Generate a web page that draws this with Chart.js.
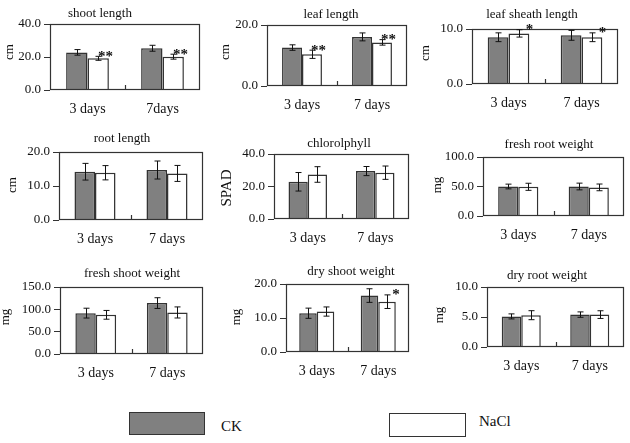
<!DOCTYPE html>
<html>
<head>
<meta charset="utf-8">
<script src="https://cdn.jsdelivr.net/npm/chart.js@4/dist/chart.umd.min.js"></script>
<style>
body{margin:0;background:#fff;width:630px;height:443px;overflow:hidden;position:relative;font-family:"Liberation Serif",serif;}
canvas{position:absolute;}
.key{position:absolute;box-sizing:border-box;border:1.5px solid #333;}
.keytxt{position:absolute;font-size:15px;color:#111;line-height:1;}
</style>
</head>
<body>
<script>
// data
var seriesNames = ['CK', 'NaCl'];
var panelTitles = ['shoot length', 'leaf length', 'leaf sheath length', 'root length', 'chlorolphyll',
                   'fresh root weight', 'fresh shoot weight', 'dry shoot weight', 'dry root weight'];
var panelUnits = ['cm', 'cm', 'cm', 'cm', 'SPAD', 'mg', 'mg', 'mg', 'mg'];
var panelMax = [40, 20, 10, 20, 40, 100, 150, 20, 10];
var panelStep = [20, 20, 10, 10, 20, 50, 50, 10, 5];
var catLabels = [['3 days', '7days'], ['3 days', '7 days'], ['3 days', '7 days'], ['3 days', '7 days'], ['3 days', '7 days'],
                 ['3 days', '7 days'], ['3 days', '7 days'], ['3 days', '7 days'], ['3 days', '7 days']];
var ckMean = [[22.8, 25.3], [12.6, 16.1], [8.5, 8.85], [14.2, 14.7], [22.9, 29.5], [50, 50], [91.5, 114], [11.4, 16.6], [5.1, 5.4]];
var ckErr = [[1.7, 1.8], [0.9, 1.3], [0.8, 0.9], [2.45, 2.65], [5.7, 2.8], [4, 5.7], [11, 12], [1.5, 2], [0.42, 0.45]];
var naclMean = [[19.2, 20.2], [10.4, 14.3], [9.2, 8.5], [13.9, 13.7], [27.4, 28.5], [49.5, 48.5], [87.7, 93], [11.9, 14.8], [5.3, 5.4]];
var naclErr = [[1.2, 1.5], [1.35, 0.9], [0.67, 0.8], [2.1, 2.35], [4.8, 4.1], [6, 5.7], [9.8, 12.4], [1.35, 2], [0.75, 0.64]];
var naclSig = [['**', '**'], ['**', '**'], ['*', '*'], ['', ''], ['', ''], ['', ''], ['', ''], ['', '*'], ['', '']];

// layout (page pixels)
var plotBoxes = [[50, 24, 200, 90], [267, 25, 407, 86], [472, 29, 618, 84],
                 [59, 152, 203, 220], [274, 154, 409, 219], [483, 157, 624, 216],
                 [60, 287, 203, 354], [286, 284, 409, 352], [487, 287, 624, 347]];
var titlePos = [[100, 14], [331, 15], [532, 15], [122, 139], [339, 144], [549, 145], [132, 274], [351, 272], [547, 276]];
var unitPos = [[10, 52], [226, 52], [426, 53], [13, 185], [227, 188], [438, 185], [6, 317], [237, 317], [440, 315]];
var keyBoxes = [[129, 412, 76, 23], [389, 413, 77, 24]];
var keyText = [[221, 419], [479, 414]];

var AXW = 58, TOPH = 26, BOTH = 34, RW = 8;
var FONT = '"Liberation Serif", serif';
var colors = ['#808080', '#ffffff'];

function makePanel(i) {
    var box = plotBoxes[i];
    var left = box[0] - AXW, top = box[1] - TOPH;
    var w = box[2] - box[0] + AXW + RW, h = box[3] - box[1] + TOPH + BOTH;
    var cv = document.createElement('canvas');
    cv.width = w; cv.height = h;
    cv.style.left = left + 'px'; cv.style.top = top + 'px';
    cv.style.width = w + 'px'; cv.style.height = h + 'px';
    document.body.appendChild(cv);

    var errs = [ckErr[i], naclErr[i]];
    var extras = {
        id: 'extras' + i,
        afterDatasetsDraw: function(chart) {
            var ctx = chart.ctx, a = chart.chartArea, ys = chart.scales.y;
            ctx.save();
            ctx.strokeStyle = '#333';
            ctx.lineWidth = 1.2;
            ctx.strokeRect(a.left + 0.5, a.top + 0.5, a.right - a.left - 1, a.bottom - a.top - 1);
            var mx = Math.round((a.left + a.right) / 2) + 0.5;
            ctx.beginPath(); ctx.moveTo(mx, a.bottom); ctx.lineTo(mx, a.bottom - 5); ctx.stroke();
            // error bars
            ctx.strokeStyle = '#111';
            ctx.lineWidth = 1;
            for (var d = 0; d < 2; d++) {
                var meta = chart.getDatasetMeta(d);
                var vals = chart.data.datasets[d].data;
                for (var k = 0; k < meta.data.length; k++) {
                    var x = Math.round(meta.data[k].x) + 0.5;
                    var y1 = ys.getPixelForValue(vals[k] + errs[d][k]);
                    var y2 = ys.getPixelForValue(vals[k] - errs[d][k]);
                    ctx.beginPath();
                    ctx.moveTo(x, y1); ctx.lineTo(x, y2);
                    ctx.moveTo(x - 3, y1); ctx.lineTo(x + 3, y1);
                    ctx.moveTo(x - 3, y2); ctx.lineTo(x + 3, y2);
                    ctx.stroke();
                    if (d == 1 && naclSig[i][k]) {
                        var el = meta.data[k];
                        ctx.fillStyle = '#111';
                        ctx.font = 'bold 15px ' + FONT;
                        ctx.textAlign = 'right';
                        ctx.textBaseline = 'top';
                        ctx.fillText(naclSig[i][k], el.x + el.width / 2 + 4, y1 - 7);
                    }
                }
            }
            // title and unit
            ctx.fillStyle = '#111';
            ctx.font = '13px ' + FONT;
            ctx.textAlign = 'center';
            ctx.textBaseline = 'middle';
            ctx.fillText(panelTitles[i], titlePos[i][0] - left, titlePos[i][1] - top);
            ctx.translate(unitPos[i][0] - left, unitPos[i][1] - top);
            ctx.rotate(-Math.PI / 2);
            ctx.font = (panelUnits[i] == 'SPAD' ? 15 : 13) + 'px ' + FONT;
            ctx.fillText(panelUnits[i], 0, 0);
            ctx.restore();
        }
    };

    new Chart(cv, {
        type: 'bar',
        data: {
            labels: catLabels[i],
            datasets: [
                { label: seriesNames[0], data: ckMean[i], backgroundColor: colors[0], borderColor: '#333', borderWidth: 1.5 },
                { label: seriesNames[1], data: naclMean[i], backgroundColor: colors[1], borderColor: '#333', borderWidth: 1.5 }
            ]
        },
        options: {
            responsive: false,
            animation: false,
            events: [],
            layout: { padding: { top: TOPH, right: RW, left: 0, bottom: 0 } },
            datasets: { bar: { categoryPercentage: 0.57, barPercentage: 1 } },
            plugins: { legend: { display: false }, title: { display: false }, tooltip: { enabled: false } },
            scales: {
                x: {
                    grid: { display: false, drawTicks: false },
                    border: { display: false },
                    ticks: { color: '#111', padding: 11, font: { family: FONT, size: 14 } },
                    afterFit: function(s) { s.height = BOTH; }
                },
                y: {
                    min: 0,
                    max: panelMax[i],
                    grid: { drawOnChartArea: false, drawTicks: true, tickLength: 6, color: '#333' },
                    border: { display: false },
                    ticks: {
                        stepSize: panelStep[i],
                        color: '#111',
                        padding: 3,
                        font: { family: FONT, size: 13 },
                        callback: function(v) { return v.toFixed(1); }
                    },
                    afterFit: function(s) { s.width = AXW; }
                }
            }
        },
        plugins: [extras]
    });
}

for (var i = 0; i < panelTitles.length; i++) {
    makePanel(i);
}

// shared key at the bottom
for (var s = 0; s < seriesNames.length; s++) {
    var kb = document.createElement('div');
    kb.className = 'key';
    kb.style.left = keyBoxes[s][0] + 'px'; kb.style.top = keyBoxes[s][1] + 'px';
    kb.style.width = keyBoxes[s][2] + 'px'; kb.style.height = keyBoxes[s][3] + 'px';
    kb.style.background = colors[s];
    document.body.appendChild(kb);
    var kt = document.createElement('div');
    kt.className = 'keytxt';
    kt.style.left = keyText[s][0] + 'px'; kt.style.top = keyText[s][1] + 'px';
    kt.textContent = seriesNames[s];
    document.body.appendChild(kt);
}
</script>
</body>
</html>
